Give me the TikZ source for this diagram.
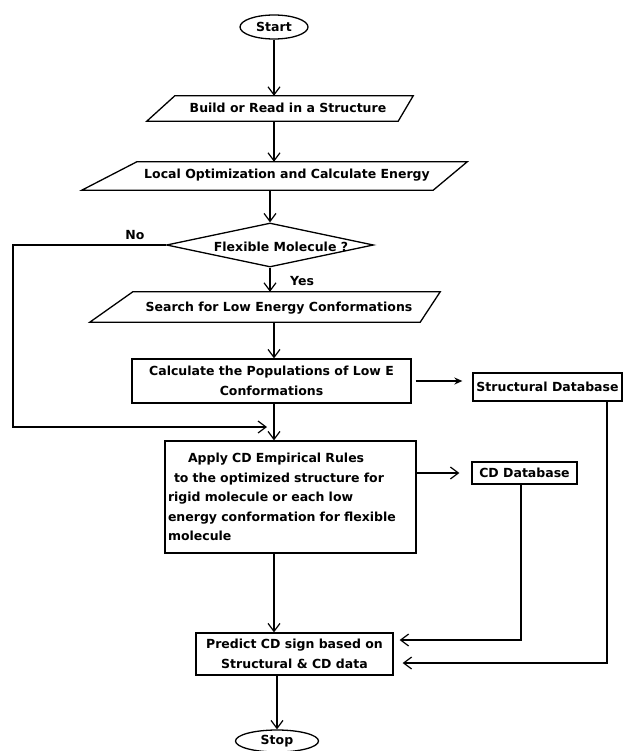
\documentclass[tikz,border=0pt]{standalone}
\usepackage{fontspec}
\setmainfont{DejaVu Sans}
\usetikzlibrary{arrows.meta,shapes.geometric}
\begin{document}
\begin{tikzpicture}[x=1pt,y=-1pt,
  every node/.style={font=\bfseries\fontsize{12.5}{19.5}\selectfont, inner sep=0pt},
  ln/.style={line width=1.3pt},
  arr/.style={ln,-{Straight Barb[length=8pt,width=12pt,line width=1.2pt]}},
  harr/.style={ln,-{Stealth[length=8pt,width=7pt]}},
  box/.style={draw,ln,rectangle},
  term/.style={draw,ln,ellipse},
  frame/.style={rectangle}
]
\useasboundingbox (0,0) rectangle (625,751);

% terminals
\node[term,minimum width=68pt,minimum height=24pt] (start) at (274,27) {Start};
\node[term,minimum width=83pt,minimum height=22pt] (stop) at (277,741) {Stop};

% Build parallelogram
\node[frame,minimum width=266pt,minimum height=25pt] (build) at (280,108.5) {};
\draw[ln] ([xshift=28pt]build.north west) -- (build.north east) -- ([xshift=-15pt]build.south east) -- (build.south west) -- cycle;
\node (buildt) at (288,108) {Build or Read in a Structure};

% Local parallelogram
\node[frame,minimum width=385pt,minimum height=28pt] (local) at (274.5,176) {};
\draw[ln] ([xshift=55pt]local.north west) -- (local.north east) -- ([xshift=-34pt]local.south east) -- (local.south west) -- cycle;
\node (localt) at (287,175) {Local Optimization and Calculate Energy};

% Decision
\node[draw,ln,diamond,minimum width=207pt,minimum height=44pt] (dia) at (270,245) {};
\node (diat) at (281,247) {Flexible Molecule ?};

% Search parallelogram
\node[frame,minimum width=350pt,minimum height=30pt] (search) at (265,307) {};
\draw[ln] ([xshift=43pt]search.north west) -- (search.north east) -- ([xshift=-20pt]search.south east) -- (search.south west) -- cycle;
\node (searcht) at (279,308) {Search for Low Energy Conformations};

% boxes
\node[box,minimum width=279pt,minimum height=44pt,align=center] (calc) at (271.5,381) {Calculate the Populations of Low E\\Conformations};
\node[box,minimum width=149pt,minimum height=28pt] (strdb) at (547.5,387) {Structural Database};
\node[box,minimum width=251pt,minimum height=112pt,text width=245pt,align=left] (apply) at (290.5,497) {\hspace*{20pt}Apply CD Empirical Rules\\\hspace*{6pt}to the optimized structure for\\rigid molecule or each low\\energy conformation for flexible\\molecule};
\node[box,minimum width=105pt,minimum height=22pt] (cddb) at (524.5,473) {CD Database};
\node[box,minimum width=197pt,minimum height=42pt,align=center] (predict) at (294.5,654) {Predict CD sign based on\\Structural \& CD data};

% labels
\node (no) at (135,235) {No};
\node[anchor=west] (yes) at (290,281) {Yes};

% main flow
\draw[arr] (start.south) -- (start.south |- build.north);
\draw[arr] (build.south -| start) -- (local.north -| start);
\draw[arr] (local.south -| dia.north) -- (dia.north);
\draw[arr] (dia.south) -- (dia.south |- search.north);
\draw[arr] (search.south -| start) -- (calc.north -| start);
\draw[arr] (calc.south -| start) -- (apply.north -| start);
\draw[arr] (apply.south -| start) -- (predict.north -| start);
\draw[arr] (predict.south -| stop) -- (stop.north);

% No branch
\coordinate (noleft) at (13,427);
\coordinate (noend) at (267,427);
\draw[arr] (dia.west) -| (noleft) -- (noend);

% side flows
\draw[harr,shorten <=4pt,shorten >=10pt] (calc.east) -- (calc.east -| strdb.west);
\draw[arr,shorten >=12pt] (cddb.west -| apply.east) -- (cddb.west);
\draw[arr,shorten >=6pt] ([xshift=-3.5pt]cddb.south) |- ([yshift=14pt]predict.east);
\draw[arr,shorten >=9pt] ([xshift=59.5pt]strdb.south) |- ([yshift=-9pt]predict.east);
\end{tikzpicture}
\end{document}
